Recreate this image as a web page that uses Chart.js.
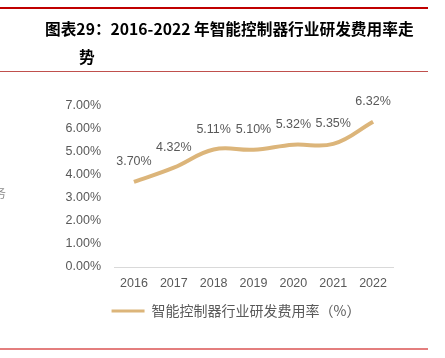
<!DOCTYPE html>
<html><head><meta charset="utf-8">
<script src="https://cdn.jsdelivr.net/npm/chart.js@4/dist/chart.umd.min.js"></script>
<style>
html,body{margin:0;padding:0;background:#fff;}
#wrap{position:relative;width:445px;height:358px;overflow:hidden;}
canvas{position:absolute;left:0;top:0;}
.rule{position:absolute;left:0;width:428px;}
.t{position:absolute;font-family:"Noto Sans CJK SC","Noto Sans",sans-serif;font-weight:bold;font-size:15.7px;color:#000;white-space:nowrap;line-height:20px;}
</style></head><body>
<div id="wrap">
<canvas id="c" width="445" height="358"></canvas>
<div class="rule" style="top:7px;height:2px;background:#c00000;"></div>
<div class="t" style="left:45px;top:19px;">图表29：2016-2022 年智能控制器行业研发费用率走</div>
<div class="t" style="left:79px;top:47px;">势</div>
<div class="rule" style="top:71px;height:1px;background:#c0504d;"></div>
<div style="position:absolute;left:-6px;top:184px;font-family:'Noto Sans CJK SC';font-size:12px;color:#8c8c8c;">务</div>
<div class="rule" style="top:348px;height:2px;background:#e47e7e;"></div>
</div>
<script>
const categories = ['2016','2017','2018','2019','2020','2021','2022'];
const rdRate = [3.70, 4.32, 5.11, 5.10, 5.32, 5.35, 6.32];
const seriesName = '智能控制器行业研发费用率（%）';
const yTicks = [0,1,2,3,4,5,6,7];

const lineColor = '#dcb57a';
const textColor = '#595959';

const dataLabels = {
  id: 'dataLabels',
  afterDatasetsDraw(chart) {
    const ctx = chart.ctx;
    const meta = chart.getDatasetMeta(0);
    ctx.save();
    ctx.font = '12.5px "Liberation Sans", Arial, sans-serif';
    ctx.fillStyle = textColor;
    ctx.textAlign = 'center';
    ctx.textBaseline = 'middle';
    meta.data.forEach((pt, i) => {
      ctx.fillText(rdRate[i].toFixed(2) + '%', pt.x, pt.y - 20);
    });
    ctx.restore();
  }
};
const legendShift = {
  id: 'legendShift',
  afterLayout(chart) {
    const lg = chart.legend;
    if (lg) { lg.left += 39.5; lg.right += 39.5; }
  }
};

new Chart(document.getElementById('c'), {
  type: 'line',
  data: {
    labels: categories,
    datasets: [{
      label: seriesName,
      data: rdRate,
      borderColor: lineColor,
      backgroundColor: lineColor,
      borderWidth: 4,
      pointRadius: 0,
      tension: 0.4,
      fill: false
    }]
  },
  options: {
    responsive: false,
    animation: false,
    layout: { padding: { top: 106, left: 0, right: 52, bottom: 30 } },
    plugins: {
      tooltip: { enabled: false },
      legend: {
        position: 'bottom',
        labels: {
          boxWidth: 33,
          boxHeight: 3,
          padding: 14,
          color: textColor,
          font: { family: '"Noto Sans CJK SC", sans-serif', size: 14 },
          generateLabels(chart) {
            return chart.data.datasets.map((ds, i) => ({
              text: ds.label,
              fillStyle: ds.borderColor,
              strokeStyle: ds.borderColor,
              lineWidth: 0,
              fontColor: textColor,
              datasetIndex: i
            }));
          }
        }
      }
    },
    scales: {
      x: {
        offset: true,
        afterFit(scale) { scale.height = 23; },
        grid: { display: false, drawTicks: false },
        border: { display: true, color: '#d9d9d9', width: 1 },
        ticks: { color: textColor, padding: 9, font: { family: '"Liberation Sans", Arial, sans-serif', size: 12.5 } }
      },
      y: {
        min: 0, max: 7,
        afterFit(scale) { scale.width = 114; },
        afterBuildTicks(scale) { scale.ticks = yTicks.map(v => ({ value: v })); },
        grid: { display: false, drawTicks: false },
        border: { display: false },
        ticks: {
          color: textColor, padding: 13,
          font: { family: '"Liberation Sans", Arial, sans-serif', size: 12.5 },
          callback: v => v.toFixed(2) + '%'
        }
      }
    }
  },
  plugins: [dataLabels, legendShift]
});
</script>
</body></html>
